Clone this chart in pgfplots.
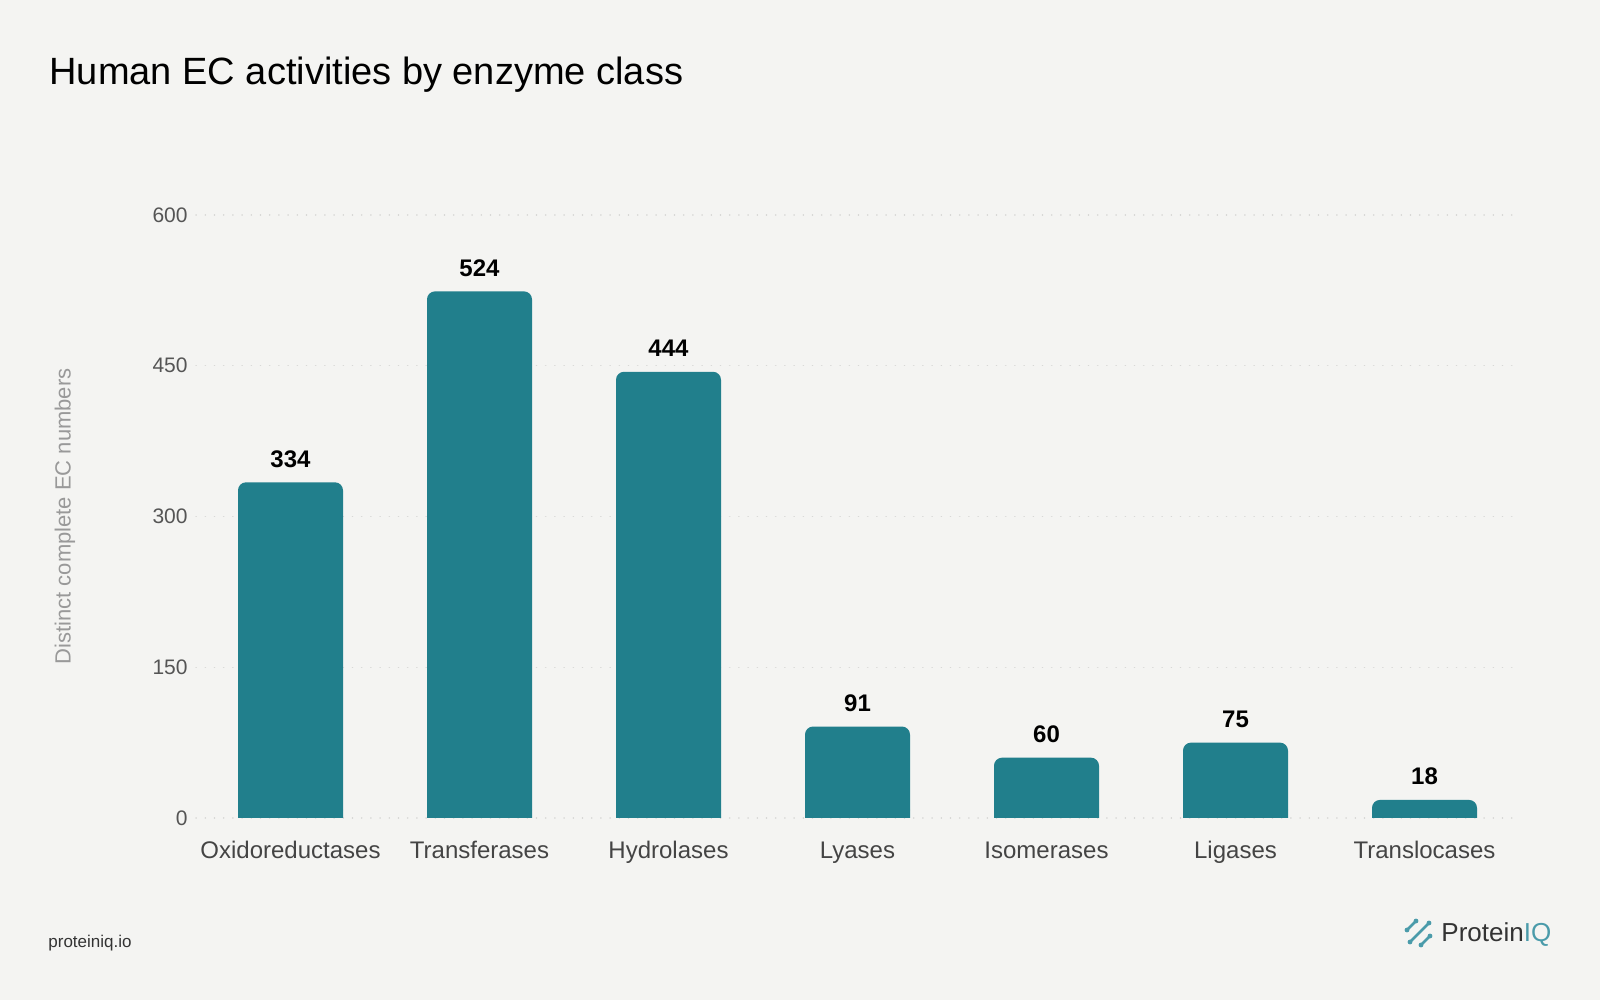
\documentclass[border=0pt]{standalone}
\usepackage{fontspec}
\setmainfont{Liberation Sans}
\usepackage{pgfplots}
\pgfplotsset{compat=1.18}
\definecolor{bg}{HTML}{F4F4F2}
\definecolor{barc}{HTML}{217F8C}
\definecolor{gridc}{HTML}{D8D8D6}
\definecolor{tickc}{HTML}{555555}
\definecolor{catc}{HTML}{444444}
\definecolor{ylabc}{HTML}{999999}
\definecolor{logoteal}{HTML}{4A9BAA}
\definecolor{darktext}{HTML}{333333}
\begin{document}
\begin{tikzpicture}[x=1pt,y=1pt]
\fill[bg] (0,0) rectangle (800,500);
\path[use as bounding box] (0,0) rectangle (800,500);
\begin{axis}[
  at={(98pt,91pt)}, anchor=south west,
  scale only axis, width=661.5pt, height=301.5pt,
  xmin=-0.5, xmax=6.5, ymin=0, ymax=600,
  ytick={0,150,300,450,600},
  xtick={0,1,2,3,4,5,6},
  xticklabels={Oxidoreductases,Transferases,Hydrolases,Lyases,Isomerases,Ligases,Translocases},
  axis line style={draw=none},
  major tick length=0pt,
  ymajorgrids,
  major grid style={color=gridc, line width=0.7pt, dash pattern=on 0.1pt off 4.5pt, line cap=round},
  yticklabel style={font=\fontsize{10.5}{12}\selectfont, color=tickc, anchor=east, inner sep=0pt, xshift=-4pt},
  xticklabel style={font=\fontsize{12}{14}\selectfont, color=catc, anchor=base, inner sep=0pt, yshift=-20.5pt},
  /pgf/number format/assume math mode=true,
  ylabel={Distinct complete EC numbers},
  ylabel style={at={(axis description cs:-0.099,0.5)}, anchor=center, font=\fontsize{11}{13}\selectfont, color=ylabc},
  title={Human EC activities by enzyme class},
  title style={at={(axis description cs:-0.111,1.217)}, anchor=base west, inner sep=0pt, yshift=-6pt, font=\fontsize{19}{23}\selectfont, color=black},
  clip=false,
]
\addplot[ybar, bar width=52.5pt, bar shift=0pt, fill=barc, draw=none, rounded corners=4pt,
  nodes near coords,
  every node near coord/.append style={font=\bfseries\fontsize{12}{14}\selectfont, color=black, anchor=base, inner sep=0pt, yshift=7.5pt}]
  coordinates {(0,334) (1,524) (2,444) (3,91) (4,60) (5,75) (6,18)};
\addplot[ybar, bar width=52.5pt, bar shift=0pt, fill=barc, draw=none]
  coordinates {(0,8) (1,8) (2,8) (3,8) (4,8) (5,8) (6,8)};
\end{axis}
\node[anchor=base west, inner sep=0pt, font=\fontsize{8.5}{10}\selectfont, color=darktext] at (24,26) {proteiniq.io};
\node[anchor=base west, inner sep=0pt, font=\fontsize{13}{15}\selectfont] at (720.5,29) {\textcolor{darktext}{Protein}\textcolor{logoteal}{IQ}};
\begin{scope}[logoteal, line width=1.3pt, line cap=round]
  \draw (703.5,35) -- (708,39.5);
  \draw (705,29) -- (714.5,38.5);
  \draw (710.5,27.5) -- (715,32);
  \fill (703.5,35) circle (1.2);
  \fill (708,39.5) circle (1.2);
  \fill (705,29) circle (1.2);
  \fill (714.5,38.5) circle (1.2);
  \fill (710.5,27.5) circle (1.2);
  \fill (715,32) circle (1.2);
\end{scope}
\end{tikzpicture}
\end{document}
